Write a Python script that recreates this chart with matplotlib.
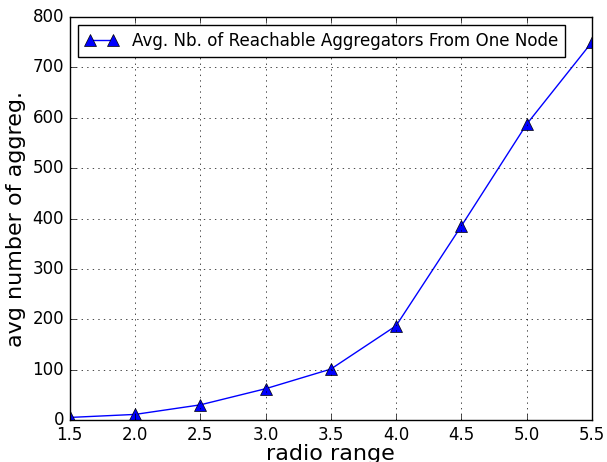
import matplotlib
matplotlib.use('Agg')
import matplotlib.pyplot as plt

plt.style.use('classic')

radio_range = [1.5, 2.0, 2.5, 3.0, 3.5, 4.0, 4.5, 5.0, 5.5]
avg_aggreg = [5, 11, 30, 62, 101, 187, 385, 587, 750]

fig = plt.figure(figsize=(6.07, 4.62), dpi=100)
ax = fig.add_axes([0.115, 0.091, 0.86, 0.872])

ax.plot(radio_range, avg_aggreg, 'b-^', markersize=8,
        label='Avg. Nb. of Reachable Aggregators From One Node')
ax.set_xlim(1.5, 5.5)
ax.set_ylim(0, 800)
ax.set_xlabel('radio range', fontsize=16, labelpad=0)
ax.set_ylabel('avg number of aggreg.', fontsize=16)
ax.grid(True)
ax.legend(loc='upper left', fontsize=12.1, numpoints=2)

fig.savefig('out.png', dpi=100)
